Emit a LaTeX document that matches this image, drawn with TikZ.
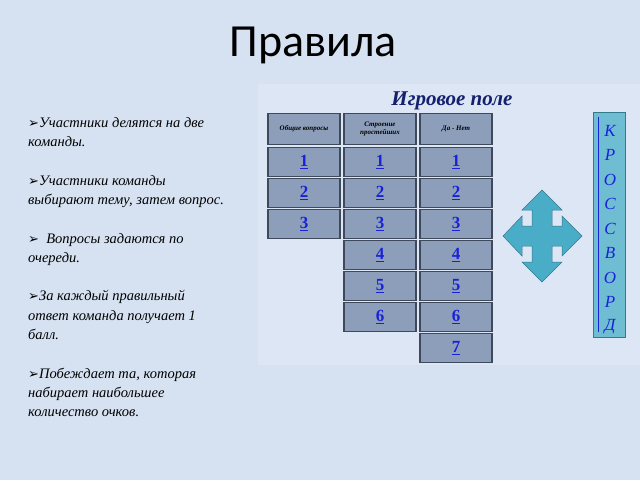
\documentclass[tikz,border=0pt]{standalone}
\usepackage{fontspec}
\setmainfont{Liberation Serif}
\newfontfamily\titlefont{Carlito}
\newfontfamily\symfont{DejaVu Sans}
\usepackage{tikz}
\usetikzlibrary{positioning}
\definecolor{bgblue}{HTML}{D6E2F2}
\definecolor{panel}{HTML}{DCE6F4}
\definecolor{cellfill}{HTML}{8C9EB9}
\definecolor{celldark}{HTML}{3E4A5C}
\definecolor{numblue}{HTML}{1A22D8}
\definecolor{navy}{HTML}{14206E}
\definecolor{arrowcol}{HTML}{4AADC8}
\newcommand{\bl}{{\symfont\fontsize{13}{13}\selectfont ➢}}
\newcommand{\num}[1]{\underline{\textbf{#1}}}
\begin{document}
\begin{tikzpicture}[x=1pt,y=-1pt,
    cell/.style={fill=cellfill,draw=celldark,line width=1.2pt,minimum width=72pt,minimum height=29pt,inner sep=0pt,
      font=\fontsize{17}{17}\selectfont,text=numblue},
    head/.style={cell,minimum height=31pt,font=\fontsize{7}{8}\selectfont\itshape\bfseries,text=black,align=center},
    letter/.style={font=\fontsize{17}{17}\selectfont\itshape,text=numblue}
  ]
  \useasboundingbox[fill=bgblue] (0,0) rectangle (640,480);
  \fill[panel] (258,84) rectangle (640,365);
  \node[font=\titlefont\fontsize{46}{46}\selectfont] (title) at (313,45) {Правила};
  \node[font=\fontsize{21}{21}\selectfont\bfseries\itshape,text=navy] (field) at (452,101) {Игровое поле};
  % rules
  \node[anchor=north west,align=left,inner sep=0pt,
    font=\fontsize{14.5}{19.3}\selectfont\itshape] (rules) at (28,117) {%
    \bl Участники делятся  на две\\ команды.\\[19.3pt]
    \bl Участники команды\\ выбирают тему, затем вопрос.\\[19.3pt]
    \bl\ \ Вопросы задаются по\\ очереди.\\[19.3pt]
    \bl За каждый правильный\\ ответ команда получает 1\\ балл.\\[19.3pt]
    \bl Побеждает та, которая\\ набирает наибольшее\\ количество очков.};
  % table
  \node[head] (h1) at (304,129) {Общие вопросы};
  \node[head] (h2) at (380,129) {Строение\\простейших};
  \node[head] (h3) at (456,129) {Да - Нет};
  \foreach \i in {1,2,3} \node[cell] (a\i) at (304,131+31*\i) {\num{\i}};
  \foreach \i in {1,...,6} \node[cell] (b\i) at (380,131+31*\i) {\num{\i}};
  \foreach \i in {1,...,7} \node[cell] (c\i) at (456,131+31*\i) {\num{\i}};
  % cross arrow
  \fill[arrowcol,draw=arrowcol!70!black,line width=0.5pt] (542,190) -- (562,210) -- (552,210) -- (552,226) -- (562,226) -- (562,216)
    -- (582,236) -- (562,256) -- (562,246) -- (552,246) -- (552,262) -- (562,262) -- (542,282)
    -- (522,262) -- (532,262) -- (532,246) -- (522,246) -- (522,256) -- (503,236) -- (522,216)
    -- (522,226) -- (532,226) -- (532,210) -- (522,210) -- cycle;
  % crossword bar
  \node[fill=arrowcol!80!white,draw=arrowcol!70!black,minimum width=32pt,minimum height=225pt,inner sep=0pt] (bar) at (609,224.5) {};
  \draw[numblue,line width=0.8pt] ([xshift=6pt,yshift=-5pt]bar.north west) -- ([xshift=6pt,yshift=5pt]bar.south west);
  \foreach \l [count=\k] in {К,Р,О,С,С,В,О,Р,Д}
    \node[letter] (l\k) at (610,106+24.5*\k) {\l};
\end{tikzpicture}
\end{document}
